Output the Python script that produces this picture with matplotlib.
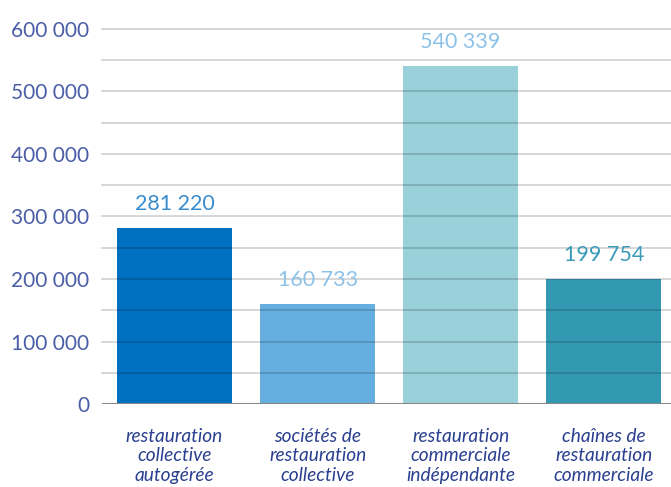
import matplotlib.pyplot as plt
import numpy as np

categories = ['restauration\ncollective\nautogérée',
              'sociétés de\nrestauration\ncollective',
              'restauration\ncommerciale\nindépendante',
              'chaînes de\nrestauration\ncommerciale']
values = [281220, 160733, 540339, 199754]
value_labels = ['281 220', '160 733', '540 339', '199 754']
bar_colors = ['#0070c0', '#66aee0', '#99d0da', '#3399b3']
label_colors = ['#3a8ccc', '#8cc2e8', '#8cc2e8', '#3a9ab8']
yticks = [0, 100000, 200000, 300000, 400000, 500000, 600000]
ytick_labels = ['0', '100 000', '200 000', '300 000', '400 000', '500 000', '600 000']

plt.rcParams['font.family'] = ['Lato', 'DejaVu Sans']

fig = plt.figure(figsize=(6.71, 4.87), dpi=100)
ax = fig.add_axes([102/671, 83/487, 1 - 102/671, (404-29)/487])

x = np.arange(len(values))
ax.bar(x, values, width=0.804, color=bar_colors, zorder=2)

# grid lines every 50 000, drawn over the bars (darker on bars)
for g in range(50000, 600001, 50000):
    ax.axhline(g, color='black', alpha=0.17, lw=1.3, zorder=3, clip_on=False)
ax.axhline(0, color='#888888', lw=2.2, zorder=4)

for xi, v, t, c in zip(x, values, value_labels, label_colors):
    ax.annotate(t, (xi, v), xytext=(0, 10), textcoords='offset points',
                ha='center', va='bottom', fontsize=15.5, color=c)

ax.set_xlim(-0.507, 3.47)
ax.set_ylim(0, 600000)
ax.set_yticks(yticks)
ax.set_yticklabels(ytick_labels, fontsize=15, color='#4a5ea8')
ax.set_xticks(x)
ax.set_xticklabels(categories, fontsize=13.8, color='#2a3f8f', style='italic',
                   linespacing=1.2)
ax.tick_params(axis='y', length=0, pad=9)
ax.tick_params(axis='x', length=0, pad=17)
for s in ax.spines.values():
    s.set_visible(False)

fig.savefig('out.png', dpi=100)
